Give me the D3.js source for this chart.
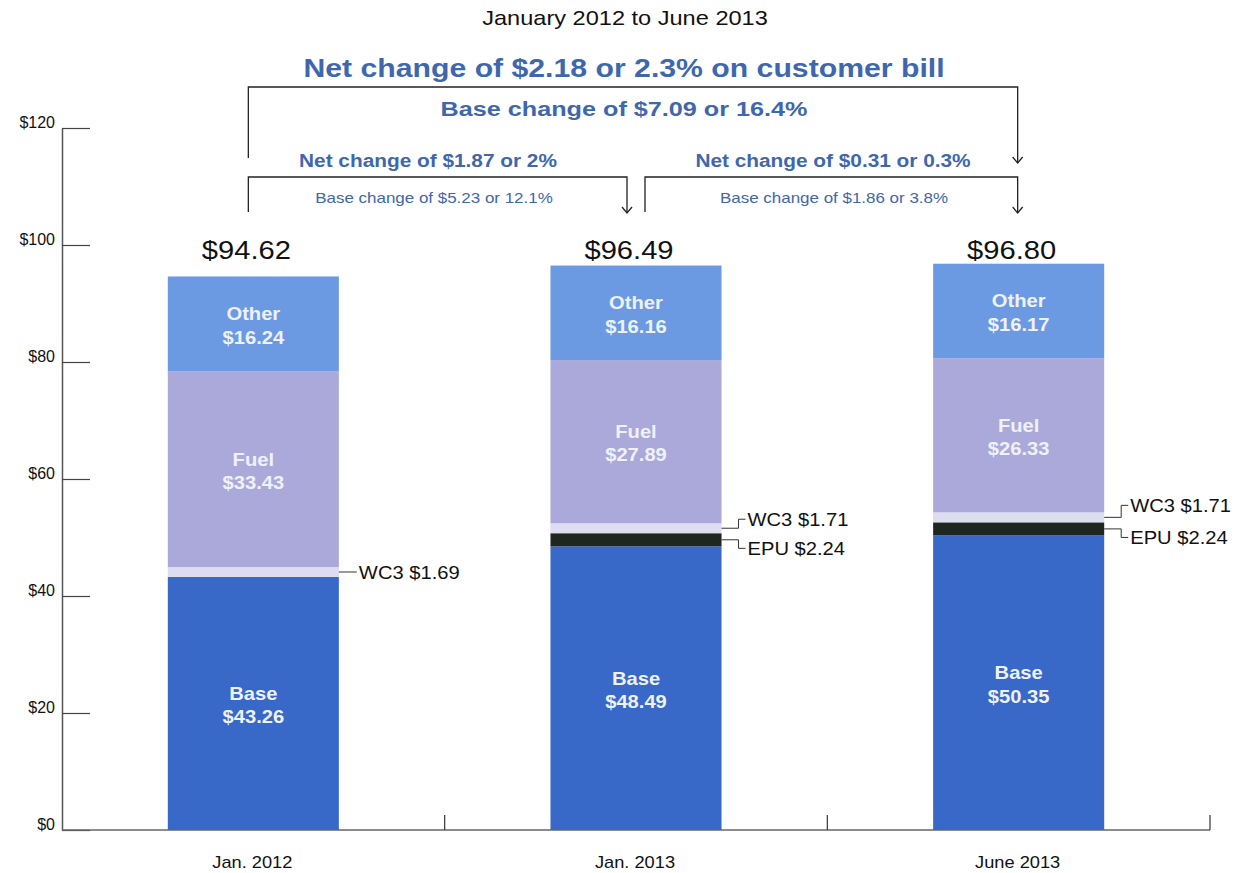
<!DOCTYPE html>
<head>
  <meta charset="utf-8">
  <script src="https://d3js.org/d3.v7.min.js"></script>
  <style>
    body { margin:0; background:#fff; }
    text { font-family: "Liberation Sans", Arial, sans-serif; }
  </style>
</head>
<body>
<script>
// chart data
var categories = ["Jan. 2012", "Jan. 2013", "June 2013"];
var components = ["Base", "EPU", "WC3", "Fuel", "Other"];
var base  = [43.26, 48.49, 50.35];
var epu   = [0, 2.24, 2.24];
var wc3   = [1.69, 1.71, 1.71];
var fuel  = [33.43, 27.89, 26.33];
var other = [16.24, 16.16, 16.17];
var totals = ["$94.62", "$96.49", "$96.80"];
var yTicks = [0, 20, 40, 60, 80, 100, 120];

var colors = {Base: "#3868c8", EPU: "#1e2620", WC3: "#dddcf1", Fuel: "#aaa9d9", Other: "#6c9ae2"};
var blue = "#3e67ad";
var sx = 1.16; // the original type is set a little wide

var width = 1239, height = 873;

var svg = d3.select("body").append("svg")
    .attr("width", width)
    .attr("height", height);

var x = d3.scaleBand()
    .domain(categories)
    .range([62, 1210])
    .padding(0);

var y = d3.scaleLinear()
    .domain([0, 120])
    .range([830, 128]);

var barW = x.bandwidth() * 0.447;
function cx(c) { return x(c) + x.bandwidth() / 2; }

// text placed at (tx,ty), stretched horizontally
function label(tx, ty, str, size, opts) {
  opts = opts || {};
  return svg.append("text")
      .attr("transform", "translate(" + tx + "," + ty + ") scale(" + (opts.sx || sx) + ",1)")
      .attr("text-anchor", opts.anchor || "middle")
      .attr("fill", opts.color || "#111")
      .style("font-size", size + "px")
      .style("font-weight", opts.weight || "normal")
      .text(str);
}

var rows = categories.map(function(c, i) {
  return {cat: c, Base: base[i], EPU: epu[i], WC3: wc3[i], Fuel: fuel[i], Other: other[i]};
});
var stack = d3.stack().keys(components)(rows);

// bars
svg.append("g").selectAll("g")
  .data(stack)
  .enter().append("g")
    .attr("fill", function(d) { return colors[d.key]; })
  .selectAll("rect")
  .data(function(d) { return d; })
  .enter().append("rect")
    .attr("x", function(d) { return cx(d.data.cat) - barW / 2; })
    .attr("width", barW)
    .attr("y", function(d) { return y(d[1]); })
    .attr("height", function(d) { return y(d[0]) - y(d[1]); });

// labels inside bars
["Base", "Fuel", "Other"].forEach(function(key) {
  var layer = stack.filter(function(s) { return s.key == key; })[0];
  layer.forEach(function(d) {
    var mid = (y(d[0]) + y(d[1])) / 2;
    var t = label(cx(d.data.cat), mid, null, 18, {color: "#eef1f8", weight: "bold", sx: 1.12});
    t.append("tspan").attr("x", 0).attr("dy", "-0.2em").text(key);
    t.append("tspan").attr("x", 0).attr("dy", "1.3em").text("$" + d.data[key].toFixed(2));
  });
});

// y axis
var yAxis = svg.append("g")
    .attr("transform", "translate(62,0)")
    .call(d3.axisLeft(y).tickValues(yTicks).tickSizeInner(-28).tickSizeOuter(0).tickPadding(7)
      .tickFormat(function(d) { return "$" + d; }));
yAxis.select(".domain").attr("stroke", "#555").attr("stroke-width", 1.5);
yAxis.selectAll(".tick line").attr("stroke", "#444").attr("stroke-width", 1.2);
yAxis.selectAll(".tick text")
    .attr("dy", "-0.02em")
    .style("font-size", "16px")
    .style("font-family", "'Liberation Sans', Arial, sans-serif")
    .attr("fill", "#111");

// x axis
var xAxis = svg.append("g")
    .attr("transform", "translate(0,830)");
xAxis.append("line")
    .attr("x1", x.range()[0]).attr("x2", x.range()[1])
    .attr("stroke", "#666").attr("stroke-width", 1.5);
xAxis.selectAll(".sep")
  .data(categories)
  .enter().append("line")
    .attr("x1", function(c) { return x(c) + x.bandwidth(); })
    .attr("x2", function(c) { return x(c) + x.bandwidth(); })
    .attr("y1", 0).attr("y2", -15)
    .attr("stroke", "#333").attr("stroke-width", 1.2);
categories.forEach(function(c) {
  label(cx(c) - 1, 868, c, 16, {sx: 1.14});
});

// totals
categories.forEach(function(c, i) {
  label(cx(c) - 7, 259, totals[i], 26.5, {sx: 1.1});
});

// callouts for small segments
function callout(i, key, ly, str) {
  var layer = stack.filter(function(s) { return s.key == key; })[0];
  var d = layer[i];
  var my = (y(d[0]) + y(d[1])) / 2;
  var x0 = cx(categories[i]) + barW / 2;
  var pts = ly == null ? [[x0, my], [x0 + 18, my]] : [[x0, my], [x0 + 17, my], [x0 + 17, ly], [x0 + 24, ly]];
  svg.append("path")
      .attr("d", d3.line()(pts))
      .attr("fill", "none").attr("stroke", "#333").attr("stroke-width", 1);
  label(pts[pts.length - 1][0] + 2, (ly == null ? my : ly) + 7, str, 18, {anchor: "start", sx: 1.12});
}
callout(0, "WC3", null, "WC3 $" + wc3[0].toFixed(2));
callout(1, "WC3", y(52.44) - 4, "WC3 $" + wc3[1].toFixed(2));
callout(1, "EPU", y(48.49) + 2, "EPU $" + epu[1].toFixed(2));
callout(2, "WC3", y(54.30) - 7, "WC3 $" + wc3[2].toFixed(2));
callout(2, "EPU", y(50.35) + 2, "EPU $" + epu[2].toFixed(2));

// headings
label(625, 25, "January 2012 to June 2013", 20.5, {sx: 1.15});
label(624, 77, "Net change of $2.18 or 2.3% on customer bill", 26.5, {color: blue, weight: "bold", sx: 1.14});
label(624, 116, "Base change of $7.09 or 16.4%", 21, {color: blue, weight: "bold", sx: 1.2});
label(428, 167, "Net change of $1.87 or 2%", 17.5, {color: blue, weight: "bold", sx: 1.19});
label(434, 203, "Base change of $5.23 or 12.1%", 14.5, {color: blue, sx: 1.17});
label(833, 167, "Net change of $0.31 or 0.3%", 17.5, {color: blue, weight: "bold", sx: 1.19});
label(834, 203, "Base change of $1.86 or 3.8%", 14.5, {color: blue, sx: 1.17});

// change brackets with arrows
var c0 = cx(categories[0]) - 5, c1 = cx(categories[1]) - 9, c2 = cx(categories[2]) - 1;
function bracket(xa, xb, top, botA, botB) {
  svg.append("path")
      .attr("d", d3.line()([[xa, botA], [xa, top], [xb, top], [xb, botB]]))
      .attr("fill", "none").attr("stroke", "#222").attr("stroke-width", 1.3);
  svg.append("path")
      .attr("d", d3.line()([[xb - 5, botB - 6], [xb, botB], [xb + 5, botB - 6]]))
      .attr("fill", "none").attr("stroke", "#222").attr("stroke-width", 1.3);
}
bracket(c0, c2, 87, 158, 163);
bracket(c0, c1, 177, 212, 213);
bracket(c1 + 18, c2, 177, 212, 213);
</script>
</body>
